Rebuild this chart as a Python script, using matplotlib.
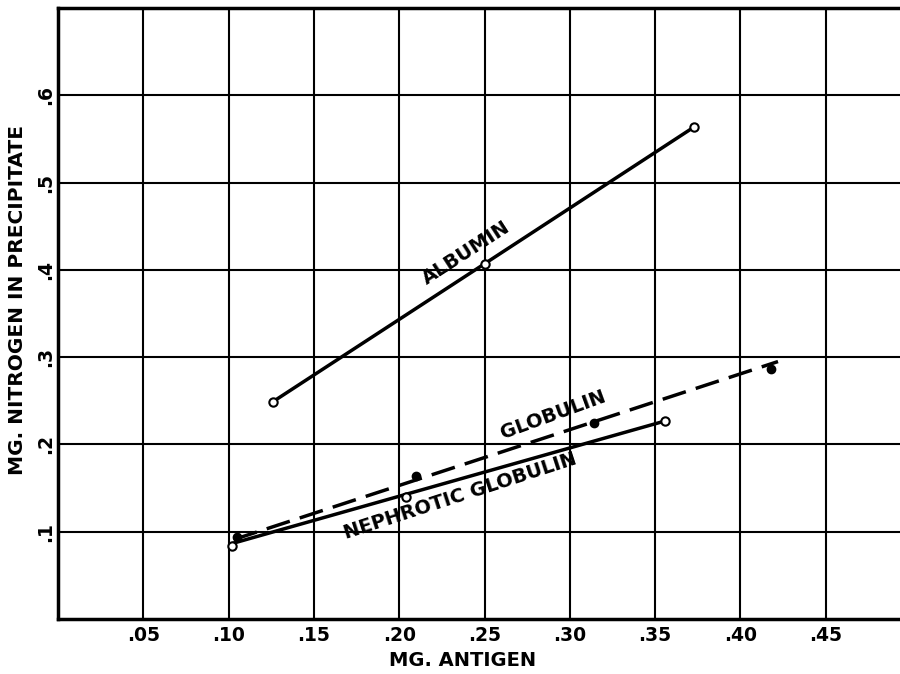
import numpy as np
import matplotlib
matplotlib.use("Agg")
import matplotlib.pyplot as plt

# albumin (open circles, solid line)
alb_x = [0.126, 0.250, 0.373]
alb_y = [0.249, 0.407, 0.564]

# globulin (filled dots, dashed fitted line)
glob_x = [0.105, 0.210, 0.314, 0.418]
glob_y = [0.094, 0.164, 0.225, 0.286]
glob_line_x = [0.103, 0.422]
glob_line_y = [0.091, 0.295]

# nephrotic globulin (open circles, solid line)
neph_x = [0.102, 0.204, 0.356]
neph_y = [0.084, 0.140, 0.227]
neph_line_x = [0.103, 0.356]
neph_line_y = [0.087, 0.227]

xticks = [0.05, 0.10, 0.15, 0.20, 0.25, 0.30, 0.35, 0.40, 0.45]
xticklabels = [".05", ".10", ".15", ".20", ".25", ".30", ".35", ".40", ".45"]
yticks = [0.1, 0.2, 0.3, 0.4, 0.5, 0.6]
yticklabels = [".1", ".2", ".3", ".4", ".5", ".6"]

fig = plt.figure(figsize=(9, 6.74), dpi=100)
ax = fig.add_axes([0.0644, 0.0816, 0.9356, 0.9064])

ax.set_xlim(0, 0.4935)
ax.set_ylim(0, 0.70)

ax.set_xticks(xticks)
ax.set_xticklabels(xticklabels)
ax.set_yticks(yticks)
ax.set_yticklabels(yticklabels)
ax.tick_params(axis="x", length=0, pad=5, labelsize=13.5)
ax.tick_params(axis="y", length=0, pad=2, labelsize=13.5)
for lab in ax.get_xticklabels() + ax.get_yticklabels():
    lab.set_fontweight("heavy")
for lab in ax.get_yticklabels():
    lab.set_rotation(90)
    lab.set_va("center")

ax.grid(True, color="black", linewidth=1.5)
ax.set_axisbelow(True)
for side in ["left", "bottom", "top"]:
    ax.spines[side].set_linewidth(2.5)
ax.spines["right"].set_visible(False)

# lines
ax.plot(alb_x, alb_y, color="black", lw=2.5, zorder=3)
ax.plot(alb_x, alb_y, "o", ms=6, mfc="white", mec="black", mew=1.5, zorder=4)

ax.plot(glob_line_x, glob_line_y, color="black", lw=2.5, dashes=(7, 3), zorder=3)
ax.plot(glob_x, glob_y, "o", ms=6, color="black", zorder=4)

ax.plot(neph_line_x, neph_line_y, color="black", lw=2.5, zorder=3)
ax.plot(neph_x, neph_y, "o", ms=6, mfc="white", mec="black", mew=1.5, zorder=4)

# curve labels
ax.text(0.2395, 0.420, "ALBUMIN", rotation=33, ha="center", va="center",
        fontsize=14, fontweight="heavy", zorder=5)
ax.text(0.290, 0.234, "GLOBULIN", rotation=20, ha="center", va="center",
        fontsize=14, fontweight="heavy", zorder=5)
ax.text(0.236, 0.141, "NEPHROTIC GLOBULIN", rotation=18, ha="center", va="center",
        fontsize=14, fontweight="heavy", zorder=5)

ax.set_xlabel("MG. ANTIGEN", fontsize=14, fontweight="heavy", va="center")
ax.set_ylabel("MG. NITROGEN IN PRECIPITATE", fontsize=14.5, fontweight="heavy", va="center")
ax.xaxis.set_label_coords(0.480, -0.0687)
ax.yaxis.set_label_coords(-0.0475, 0.522)

fig.savefig("out.png", dpi=100)
